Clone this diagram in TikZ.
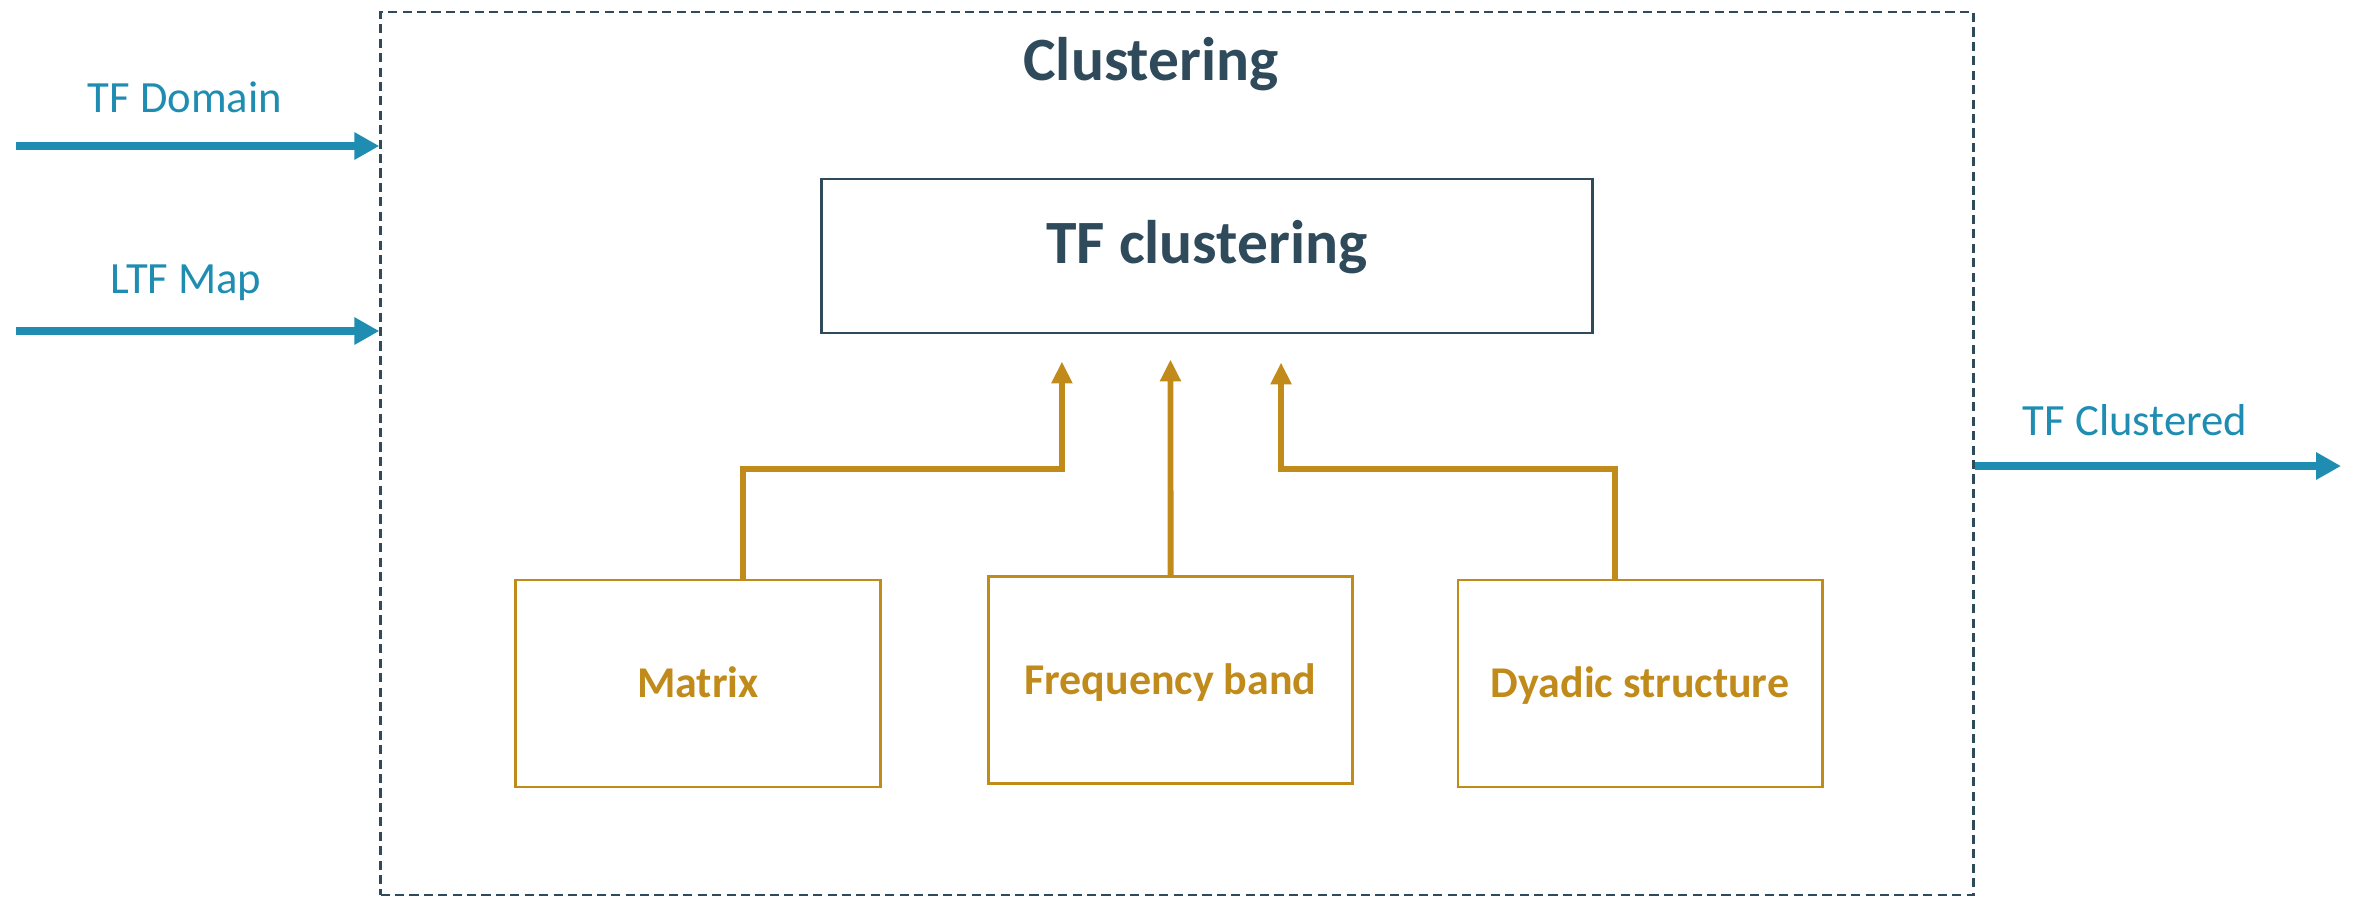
\documentclass[tikz,border=0pt]{standalone}
\usepackage{fontspec}
\setmainfont{Carlito}
\usepackage{xcolor}
\usepackage{tikz}
\usetikzlibrary{arrows.meta}
\usetikzlibrary{positioning}
\definecolor{tfblue}{HTML}{1E8DB1}
\definecolor{tfgold}{HTML}{C18B1B}
\definecolor{tfdark}{HTML}{2E4A5B}
\tikzset{%
  method box/.style={
    rectangle,
    draw=tfgold,
    line width=0.8pt,
    minimum width=3.64cm,
    minimum height=2.07cm,
    text=tfgold,
    font=\fontsize{12.5}{15}\selectfont\bfseries,
    text height=0.28cm,
    text depth=0cm
  },
  io arrow/.style={
    draw=tfblue,
    line width=2.3pt,
    -{Triangle[length=0.25cm,width=0.26cm]}
  },
  io label/.style={
    anchor=base,
    text=tfblue,
    font=\fontsize{12.7}{15}\selectfont
  },
  method arrow/.style={
    draw=tfgold,
    line width=1.7pt,
    -{Triangle[length=0.22cm,width=0.2cm]}
  },
}

\begin{document}
\begin{tikzpicture}[x=0.01cm,y=-0.01cm]
  \useasboundingbox (0,0) rectangle (2355,896);

  \node (frame) [draw=tfdark,dash pattern=on 2.6pt off 1.5pt,line width=0.7pt,
    minimum width=15.92cm,minimum height=8.82cm] at (1177,453.5) {};
  \node (title) [anchor=base,text=tfdark,font=\fontsize{17.5}{21}\selectfont\bfseries]
    at (1151,80) {Clustering};
  \node (tfc) [draw=tfdark,line width=0.8pt,minimum width=7.7cm,minimum height=1.54cm,
    text=tfdark,font=\fontsize{17.5}{21}\selectfont\bfseries,
    text height=0.39cm,text depth=0.25cm] at (1207,256) {TF clustering};

  \node (mat) [method box] at (698,683.5) {Matrix};
  \node (freq) [method box] at (1170.5,680) {Frequency band};
  \node (dya) [method box] at (1640,683.5) {Dyadic structure};

  % inputs and output
  \coordinate (inDomain) at (16,146);
  \coordinate (inMap) at (16,331);
  \coordinate (outClust) at (2341,466);
  \node (lblDomain) [io label] at (185,112) {TF Domain};
  \node (lblMap) [io label] at (186,293) {LTF Map};
  \node (lblClust) [io label] at (2135,435) {TF Clustered};

  \draw [io arrow] (inDomain) -- (inDomain -| frame.west);
  \draw [io arrow] (inMap) -- (inMap -| frame.west);
  \draw [io arrow] (outClust -| frame.east) -- (outClust);

  % methods feeding the clustering
  \draw [method arrow] ([xshift=0.45cm]mat.north) -- ++(0,-110)
    -| ([xshift=-1.45cm,yshift=-0.27cm]tfc.south);
  \draw [method arrow] (freq.north) -- ([xshift=-0.365cm,yshift=-0.25cm]tfc.south);
  \draw [method arrow] ([xshift=-0.25cm]dya.north) -- ++(0,-110)
    -| ([xshift=0.74cm,yshift=-0.28cm]tfc.south);
\end{tikzpicture}
\end{document}
